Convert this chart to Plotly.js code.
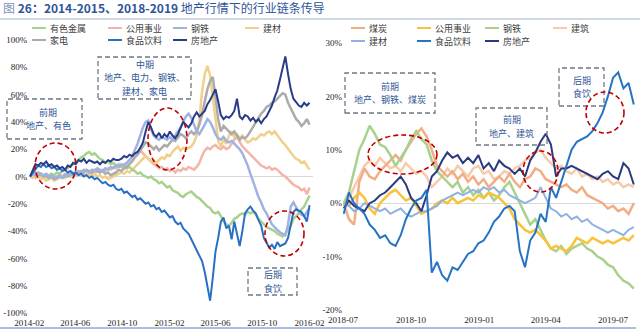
<!DOCTYPE html>
<html><head><meta charset="utf-8">
<script src="https://cdn.plot.ly/plotly-3.0.1.min.js"></script>
<style>html,body{margin:0;padding:0;background:#fff;}#chart{width:640px;height:329px;}</style>
</head><body><div id="chart"></div>
<script>
// ---------------- DATA ----------------
// Left panel: weekly observations starting 2014-02-03 (relative performance, %)
const leftStart = '2014-02-03';
const leftTickVals = ['2014-02-01','2014-06-01','2014-10-01','2015-02-01','2015-06-01','2015-10-01','2016-02-01'];
const leftTickText = ['2014-02','2014-06','2014-10','2015-02','2015-06','2015-10','2016-02'];
const leftYTicks = [-100,-80,-60,-40,-20,0,20,40,60,80,100];

const leftNonferrous = [0,2,1,3,2,1,0,1,2,1, 3,2,4,5,6,8,9,11,12,14, 15,17,18,16,17,15,13,12,10,11, 9,10,8,9,7,8,6,7,5,4, 2,3,1,0,-1,0,-2,-3,-5,-4, -6,-8,-7,-10,-11,-12,-14,-15,-13,-12, -11,-13,-15,-16,-18,-20,-22,-23,-26,-27, -26,-29,-33,-35,-36,-34,-31,-30,-28,-27, -28,-26,-27,-26,-28,-31,-33,-35,-37,-38, -39,-40,-42,-43,-44,-42,-39,-36,-31,-29, -27,-24,-22,-18,-14];
const leftUtilities = [0,1,-1,0,1,-1,0,-2,-1,0, -1,1,0,2,1,0,1,2,1,3, 2,1,2,3,2,4,3,5,4,6, 5,7,6,8,7,9,10,12,14,16, 18,19,17,15,13,11,9,8,6,7, 5,6,4,5,3,5,4,6,5,7, 6,5,7,10,15,19,21,20,22,23, 21,20,22,20,21,24,27,29,25,22, 20,18,16,14,12,10,8,7,6,7, 5,6,5,3,1,0,-2,-4,-6,-7, -8,-10,-9,-13,-8];
const leftSteel = [0,2,1,3,2,1,2,0,1,-1, 0,1,-1,0,2,1,3,2,4,3, 5,4,3,5,4,6,5,4,6,5, 7,6,8,7,9,8,10,12,15,19, 24,30,36,40,41,35,30,28,27,29, 28,27,29,27,30,33,36,40,44,46, 43,38,33,31,34,38,42,40,36,31, 28,27,29,26,25,26,24,22,20,17, 13,8,2,-4,-9,-15,-19,-24,-27,-31, -35,-37,-39,-41,-42,-43,-35,-22,-19,-23, -26,-28,-29,-26,-23];
const leftBuildMat = [0,-1,1,0,-2,-1,-3,-2,-1,-3, -2,-1,0,-1,1,0,2,1,3,2, 1,2,0,1,2,0,1,-1,0,-2, -1,0,1,2,3,2,4,3,5,7, 9,11,13,15,13,11,12,10,12,14, 13,16,15,18,20,22,19,21,20,21, 22,25,30,42,62,75,81,74,58,38, 26,22,27,24,30,33,29,31,28,30, 27,25,26,28,27,29,31,30,32,33, 31,33,30,28,25,23,20,17,15,13, 12,10,11,8,5];
const leftAppliance = [0,2,3,1,2,0,1,-1,0,-2, -1,0,-1,1,0,2,1,3,2,4, 3,5,4,3,5,4,3,4,2,3, 1,2,3,5,4,6,7,9,11,14, 16,19,22,25,24,22,20,22,19,21, 23,22,25,27,26,29,31,30,28,31, 33,31,33,38,45,55,64,70,73,58, 42,33,37,35,33,31,33,30,27,29, 28,30,33,36,40,43,46,48,51,52, 54,55,57,59,61,60,54,50,46,42, 40,37,39,42,38];
const leftFood = [0,3,6,8,7,9,7,8,6,7, 5,6,4,5,3,4,2,3,1,2, 0,1,-1,0,-2,-1,-3,-5,-4,-6, -7,-6,-9,-10,-9,-12,-11,-13,-15,-14, -17,-16,-18,-20,-19,-22,-21,-24,-23,-26, -25,-28,-30,-29,-33,-35,-34,-38,-40,-42, -46,-50,-53,-57,-62,-70,-80,-91,-74,-55, -45,-33,-30,-38,-36,-46,-33,-42,-51,-40, -27,-24,-22,-25,-27,-32,-36,-45,-49,-52, -50,-53,-48,-51,-50,-49,-45,-35,-26,-24, -25,-26,-29,-33,-21];
const leftRealEstate = [0,5,9,8,10,9,11,8,9,7, 8,6,7,5,8,7,10,9,12,11, 13,10,12,11,10,11,9,11,10,12, 11,13,12,12,13,15,14,16,15,17, 18,21,25,33,40,36,31,29,32,28, 31,29,33,30,28,31,35,40,38,36, 39,44,47,44,46,48,53,56,60,64, 55,45,42,44,43,45,48,57,44,42, 45,44,41,43,40,42,39,42,44,48, 52,58,63,71,80,88,75,64,57,54, 52,51,54,52,54];

// Right panel: weekly observations starting 2018-07-02 (relative performance, %)
const rightStart = '2018-07-02';
const rightTickVals = ['2018-07-01','2018-10-01','2019-01-01','2019-04-01','2019-07-01'];
const rightTickText = ['2018-07','2018-10','2019-01','2019-04','2019-07'];
const rightYTicks = [-20,-10,0,10,20,30];

const rightCoal = [0,-3,-4,4,6.5,5,4.5,6,7,8, 9,8,10,11.5,13,14,12.5,10,7,6, 5,6,4.5,5.5,4,5,3.5,4.5,3,4, 5,4,5.5,4,3,4.5,5,6.5,6,4.5, 4,3.5,3,3.5,2.5,2,3,1.5,1,0.5, 0,-1,-0.5,-1.5,-1,-2,0];
const rightUtilities = [0,-0.5,1,2,1,-1,-2,0,1,2, 2.5,1.5,0.5,1,-0.5,-2,-1.5,-1,0,0.5, 0,1,0,0.5,1,0.5,1.5,1,2,1.5, 1,0,-1,-3,-4,-5,-5.5,-5,-6,-7, -8.5,-8,-8.5,-9,-8,-6.5,-7,-7.5,-6.5,-7, -7.5,-7,-7.5,-7,-6.5,-7,-6];
const rightSteel = [0,2,6,10,12,14.5,13,11,10.5,9, 7,8.5,10,12,13.5,12,11,8,6,5, 4,3,4,2,3,1.5,2.5,1,2,0.5, 1.5,3,4,2,0,-2,-4,-3,-5,-7, -8.5,-9,-8,-9.5,-8.5,-8,-7.5,-8.5,-9,-10, -10.5,-11.5,-12,-13.5,-14.5,-15,-16];
const rightConstruction = [0,1,3,5,7,8,7,8.5,7.5,6.5, 7,6,7.5,6.5,5.5,6,5,3,4,5, 6.5,5.5,7,6,5,6.5,7,5.5,6,4.5, 5,6,5.5,6.5,7,8,8.5,9.5,10,8.5, 7.5,6.5,7,6,5.5,6.5,5,5.5,4.5,5, 4,4.5,3.5,4,3,3.5,3];
const rightBuildMat = [0,-0.5,-1.5,-1,0,-0.5,-1,-1.5,-1,-2, -1.5,-1,-2,-2.5,-2,-1.5,-1.5,-1,-0.5,0.5, 1,1.5,2,1.5,2,2.5,2,3,2.5,3, 2,2.5,1.5,1,0.5,0,0.5,1,3,1, -1,-1.5,-2.5,-2,-3,-2.5,-3.5,-3,-4,-4.5, -5,-5.5,-5,-5.5,-6,-5,-4.5];
const rightFood = [-2,2,0,-1,-2,-4,-5,-6.5,-6,-7.5, -8,-6,-3,-1,0.5,1,2.5,-13,-11,-13.5, -14.5,-12,-12.5,-11,-9.5,-9,-7.5,-7,-5.5,-3.5, -2.5,-1,-0.5,-1.5,-9,-12,-7,-5.5,-2,-3.5, 3,1,4,7,10,11.5,12,12.5,13.5,15, 17,20,23.5,24.5,21.5,22.5,18.5];
const rightRealEstate = [-1,0.5,-0.5,-1,-1.5,0,0.5,1.5,2,3, 4,5,3.5,1,0,-1.5,1.5,5,6,8, 9.5,8.5,9,7.5,8.5,7.5,9,6.5,7.5,6, 8,7,6.5,5.5,6.5,5,8,9.5,11.5,13, 11,5,6.5,6.5,7,6.5,6,5.5,5,4.5, 5.5,6,5,4.5,7.5,6.5,3.5];

// ---------------- SERIES (legend order) ----------------
const leftSeries = [
  {name:'有色金属', y:leftNonferrous, color:'#a9d18e', w:2.5, z:2},
  {name:'公用事业', y:leftUtilities, color:'#f4b4a8', w:2.5, z:0},
  {name:'钢铁',     y:leftSteel,     color:'#9fb3e2', w:2.5, z:4},
  {name:'建材',     y:leftBuildMat,  color:'#f0d08a', w:2.5, z:1},
  {name:'家电',     y:leftAppliance, color:'#ababab', w:2.5, z:3},
  {name:'食品饮料', y:leftFood,      color:'#2a70c2', w:2,   z:5},
  {name:'房地产',   y:leftRealEstate,color:'#283c8a', w:2,   z:6}
];
const rightSeries = [
  {name:'煤炭',     y:rightCoal,         color:'#f2ad85', w:2.5, z:1},
  {name:'公用事业', y:rightUtilities,    color:'#f8c23a', w:2.5, z:3},
  {name:'钢铁',     y:rightSteel,        color:'#a9d18e', w:2.5, z:2},
  {name:'建筑',     y:rightConstruction, color:'#f7cba9', w:2.5, z:0},
  {name:'建材',     y:rightBuildMat,     color:'#8fb2e0', w:2,   z:4},
  {name:'食品饮料', y:rightFood,         color:'#2673c4', w:2,   z:6},
  {name:'房地产',   y:rightRealEstate,   color:'#2b3a80', w:2,   z:5}
];

function weekly(start, n){
  const out=[]; const d0=new Date(start+'T00:00:00Z');
  for(let i=0;i<n;i++){ out.push(new Date(d0.getTime()+i*7*86400000).toISOString().slice(0,10)); }
  return out;
}
const leftDates = weekly(leftStart, leftRealEstate.length);
const rightDates = weekly(rightStart, rightRealEstate.length);

const traces = [];
function addTraces(series, dates, xa, ya){
  series.slice().sort((a,b)=>a.z-b.z).forEach(s=>{
    traces.push({type:'scatter', mode:'lines', x:dates, y:s.y, name:s.name, xaxis:xa, yaxis:ya,
      line:{color:s.color, width:s.w}, hoverinfo:'skip', showlegend:false});
  });
}
addTraces(leftSeries, leftDates, 'x', 'y');
addTraces(rightSeries, rightDates, 'x2', 'y2');

// ---------------- LAYOUT ----------------
const W=640, H=329;
const px = x => x/W, py = y => 1 - y/H;
const tickFont = {family:'Liberation Serif, Times New Roman, serif', size:9, color:'#262626'};
const cjk = 'Noto Sans CJK SC, sans-serif';
const pctText = v => (v<0?'-':'') + Math.abs(v) + '%';

const shapes = [];
const annotations = [];

// legends (manual, two rows per panel)
function legend(series, cols, rows){
  series.forEach((s,i)=>{
    const cx = cols[i%4], cy = rows[Math.floor(i/4)];
    shapes.push({type:'line', xref:'paper', yref:'paper', x0:px(cx), x1:px(cx+14), y0:py(cy), y1:py(cy),
      line:{color:s.color, width:2}});
    annotations.push({xref:'paper', yref:'paper', x:px(cx+16), y:py(cy), xanchor:'left', yanchor:'middle',
      text:s.name, showarrow:false, font:{family:cjk, size:9, color:'#404040'}});
  });
}
legend(leftSeries, [32,108,173,245], [28,40]);
legend(rightSeries, [351,417,485,553], [28,41]);

// dashed callout boxes (one annotation per text line)
const boxes = [
  {x0:7, x1:82, y0:99, y1:139, cx:48, lines:['前期','地产、有色']},
  {x0:98, x1:191, y0:57, y1:99, lines:['中期','地产、电力、钢铁、','建材、家电']},
  {x0:248, x1:297, y0:268, y1:295, lines:['后期','食饮']},
  {x0:345, x1:435, y0:73, y1:113, lines:['前期','地产、钢铁、煤炭']},
  {x0:476, x1:547, y0:108, y1:145, lines:['前期','地产、建筑']},
  {x0:559, x1:604, y0:68, y1:106, lines:['后期','食饮']}
];
const LINE_STEP = 13.2;
boxes.forEach(b=>{
  shapes.push({type:'rect', xref:'paper', yref:'paper', x0:px(b.x0), x1:px(b.x1), y0:py(b.y1), y1:py(b.y0),
    line:{color:'#6e7886', width:1.3, dash:'5px,3px'}, fillcolor:'rgba(0,0,0,0)'});
  const cy = (b.y0+b.y1)/2, n = b.lines.length;
  b.lines.forEach((t,i)=>{
    annotations.push({xref:'paper', yref:'paper', x:px(b.cx || (b.x0+b.x1)/2), y:py(cy + (i-(n-1)/2)*LINE_STEP),
      xanchor:'center', yanchor:'middle', text:t, showarrow:false,
      font:{family:cjk, size:9, color:'#2f5597'}});
  });
});

// red dashed ellipses
const ellipses = [
  [35,76,143,189],[148,187,108,170],[265,304,211,256],
  [368,437,135,174],[523,558,151,192],[586,624,92,133]
];
ellipses.forEach(e=>{
  shapes.push({type:'circle', xref:'paper', yref:'paper', x0:px(e[0]), x1:px(e[1]), y0:py(e[3]), y1:py(e[2]),
    line:{color:'#c00000', width:1.6, dash:'5px,3px'}, fillcolor:'rgba(0,0,0,0)'});
});

// title rule and bottom rule
shapes.push({type:'line', xref:'paper', yref:'paper', x0:0, x1:1, y0:py(19), y1:py(19), line:{color:'#9fb0cc', width:1}});
shapes.push({type:'line', xref:'paper', yref:'paper', x0:0, x1:px(636), y0:py(328), y1:py(328), line:{color:'#5b7dc0', width:1}});

const axBase = {showgrid:false, showline:false, ticks:'', tickfont:tickFont, fixedrange:true};
const layout = {
  width:W, height:H, margin:{l:0,r:0,t:0,b:0},
  paper_bgcolor:'#ffffff', plot_bgcolor:'rgba(0,0,0,0)', showlegend:false,
  title:{text:'<span style="color:#8093b8">图</span> <b>26：2014-2015、2018-2019</b> 地产行情下的行业链条传导',
    x:px(3), xanchor:'left', xref:'paper', y:py(9), yanchor:'middle',
    font:{family:cjk, size:12, color:'#2f5597'}},
  xaxis:Object.assign({}, axBase, {domain:[px(29.3),px(313)], range:['2014-02-01','2016-02-10'], type:'date',
    tickmode:'array', tickvals:leftTickVals, ticktext:leftTickText, zeroline:false, anchor:'y', ticklabelstandoff:3}),
  yaxis:Object.assign({}, axBase, {domain:[py(313),py(40)], range:[-100,100], tickmode:'array',
    tickvals:leftYTicks, ticktext:leftYTicks.map(pctText), zeroline:true, zerolinecolor:'#d9d9d9', zerolinewidth:1, anchor:'x', ticklabelstandoff:1}),
  xaxis2:Object.assign({}, axBase, {domain:[px(343),px(636)], range:['2018-07-01','2019-08-01'], type:'date',
    tickmode:'array', tickvals:rightTickVals, ticktext:rightTickText, zeroline:false, anchor:'y2', ticklabelstandoff:3}),
  yaxis2:Object.assign({}, axBase, {domain:[py(310),py(43)], range:[-20,30], tickmode:'array',
    tickvals:rightYTicks, ticktext:rightYTicks.map(pctText), zeroline:true, zerolinecolor:'#d9d9d9', zerolinewidth:1, anchor:'x2'}),
  shapes:shapes, annotations:annotations
};

Plotly.newPlot('chart', traces, layout, {staticPlot:true, displayModeBar:false});
</script></body></html>
